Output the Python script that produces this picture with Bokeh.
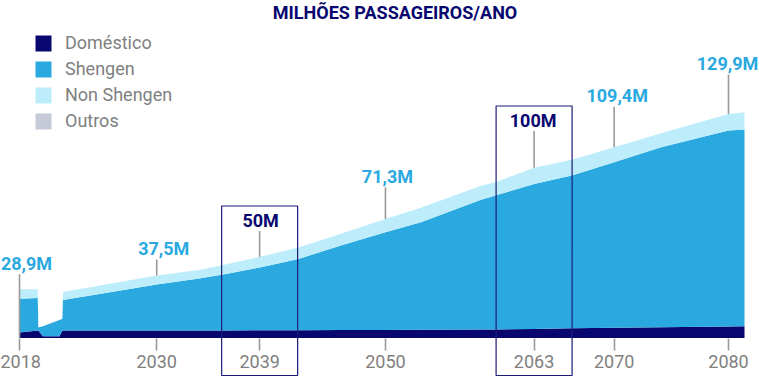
from bokeh.plotting import figure
from bokeh.models import Range1d, FixedTicker, Legend, LegendItem, Label, ColumnDataSource
from bokeh.core.properties import value
from bokeh.embed import file_html
from bokeh.resources import INLINE

# ---------------- data (millions of passengers / year) ----------------
years       = [2018, 2019.6, 2019.65, 2020.05, 2021.5, 2021.75, 2021.8, 2030, 2033.7, 2035.8,
               2039, 2042.4, 2046.1, 2050, 2053.1, 2058.3, 2059.6, 2063, 2066.3, 2070,
               2074.1, 2080, 2081.4]
domestico   = [3.2, 4.4, 4.4, 1.0, 1.0, 4.4, 4.4, 4.4, 4.4, 4.4,
               4.5, 4.5, 4.6, 4.7, 4.8, 5.0, 5.0, 5.2, 5.6, 6.0,
               6.3, 6.7, 6.8]
shengen     = [19.6, 18.9, 1.7, 5.8, 9.5, 6.8, 17.7, 26.7, 30.2, 32.5,
               36.5, 41.5, 49.2, 56.8, 62.5, 75.3, 77.8, 84.4, 88.9, 96.2,
               104.6, 113.9, 114.4]
non_shengen = [5.5, 5.1, 0.0, 0.0, 0.0, 0.0, 4.6, 5.2, 5.0, 5.5,
               6.2, 6.6, 6.8, 7.7, 8.4, 8.0, 7.8, 9.4, 9.1, 8.7,
               8.1, 9.7, 10.1]
outros      = [0.0] * len(years)

series_names  = ["Doméstico", "Shengen", "Non Shengen", "Outros"]
series_colors = ["#07076f", "#2aa9e1", "#bdedfb", "#c5c9d8"]

tick_years   = [2018, 2030, 2039, 2050, 2063, 2070, 2080]
label_years  = [2018, 2030, 2039, 2050, 2063, 2070, 2080]
label_values = [28.9, 37.5, 50, 71.3, 100, 109.4, 129.9]
label_texts  = ["28,9M", "37,5M", "50M", "71,3M", "100M", "109,4M", "129,9M"]
highlighted  = [False, False, True, False, True, False, False]

# ---------------- styling / layout ----------------
W, H = 759, 377
NAVY = "#07076f"
BLUE = "#2aa9e1"
GREY_TXT = "#808080"
GREY_LINE = "#9a9a9a"
FONT = "Roboto"

label_dx = [7, 7, 1, 2, -1, 3, -1]              # screen px
label_dy = [-25, -25, -32, -39, -46, -54, -51]  # screen px (negative = up)

ppx = 709 / 62.0      # px per year
ppu = 1.72            # px per million
base_px = 337.5
x0 = 2018 - 19 / ppx
x1 = 2018 + (W - 19) / ppx
y0 = -(H - base_px) / ppu
y1 = base_px / ppu

p = figure(width=W, height=H, output_backend="svg", toolbar_location=None,
           x_range=Range1d(x0, x1), y_range=Range1d(y0, y1),
           min_border=0, outline_line_color=None, background_fill_color="white",
           border_fill_color="white")
p.grid.visible = False
p.yaxis.visible = False

src = ColumnDataSource(dict(year=years, d=domestico, s=shengen, n=non_shengen, o=outros))
areas = p.varea_stack(["d", "s", "n", "o"], x="year", color=series_colors, source=src)

# totals at labelled years
totals = [domestico[i] + shengen[i] + non_shengen[i] + outros[i] for i in range(len(years))]
tops = [totals[years.index(y)] for y in label_years]

# leader lines
seg_x = label_years
seg_bottom = [0 if i == 0 else tops[i] for i in range(len(label_years))]
seg_top = [label_values[i] - (label_dy[i] + 11) / ppu for i in range(len(label_years))]
p.segment(x0=seg_x, y0=seg_bottom, x1=seg_x, y1=seg_top, line_color=GREY_LINE, line_width=1.6)

# highlight boxes
hb = [i for i in range(len(label_years)) if highlighted[i]]
p.quad(left=[label_years[i] - 38 / ppx for i in hb],
       right=[label_years[i] + 38 / ppx for i in hb],
       top=[label_values[i] - (label_dy[i] - 14) / ppu for i in hb],
       bottom=[y0 + 2 / ppu for i in hb],
       fill_color=None, line_color="#1c1c78", line_width=1.2)

# value labels
lsrc = ColumnDataSource(dict(x=label_years, y=label_values, t=label_texts,
                             c=[NAVY if h else BLUE for h in highlighted],
                             dx=label_dx, dy=label_dy))
p.text(x="x", y="y", text="t", text_color="c", x_offset="dx", y_offset="dy",
       text_font=value(FONT), text_font_style="bold", text_font_size="18px",
       text_align="center", text_baseline="middle", source=lsrc)

# x axis at baseline
ax = p.xaxis[0]
ax.fixed_location = 0
ax.ticker = FixedTicker(ticks=tick_years)
ax.axis_line_color = None
ax.major_tick_in = 0
ax.major_tick_out = 12
ax.major_tick_line_color = GREY_LINE
ax.major_tick_line_width = 1.6
ax.minor_tick_line_color = None
ax.major_label_text_font = FONT
ax.major_label_text_font_size = "18px"
ax.major_label_text_color = GREY_TXT
ax.major_label_standoff = 5

# legend
items = [LegendItem(label=series_names[i], renderers=[areas[i]]) for i in range(4)]
legend = Legend(items=items, location=(33, H - 131), orientation="vertical",
                glyph_width=20, glyph_height=20, label_height=20, spacing=5,
                label_standoff=12, padding=0, margin=0,
                border_line_color=None, background_fill_alpha=0,
                label_text_font=FONT, label_text_font_size="18px",
                label_text_color=GREY_TXT)
p.add_layout(legend)

# title
p.add_layout(Label(x=394.5, y=H - 12, x_units="screen", y_units="screen",
                   text="MILHÕES PASSAGEIROS/ANO", text_font=FONT, text_font_style="bold",
                   text_font_size="18px", text_color=NAVY, text_align="center",
                   text_baseline="middle"))

open("out.html", "w").write(file_html(p, INLINE))
